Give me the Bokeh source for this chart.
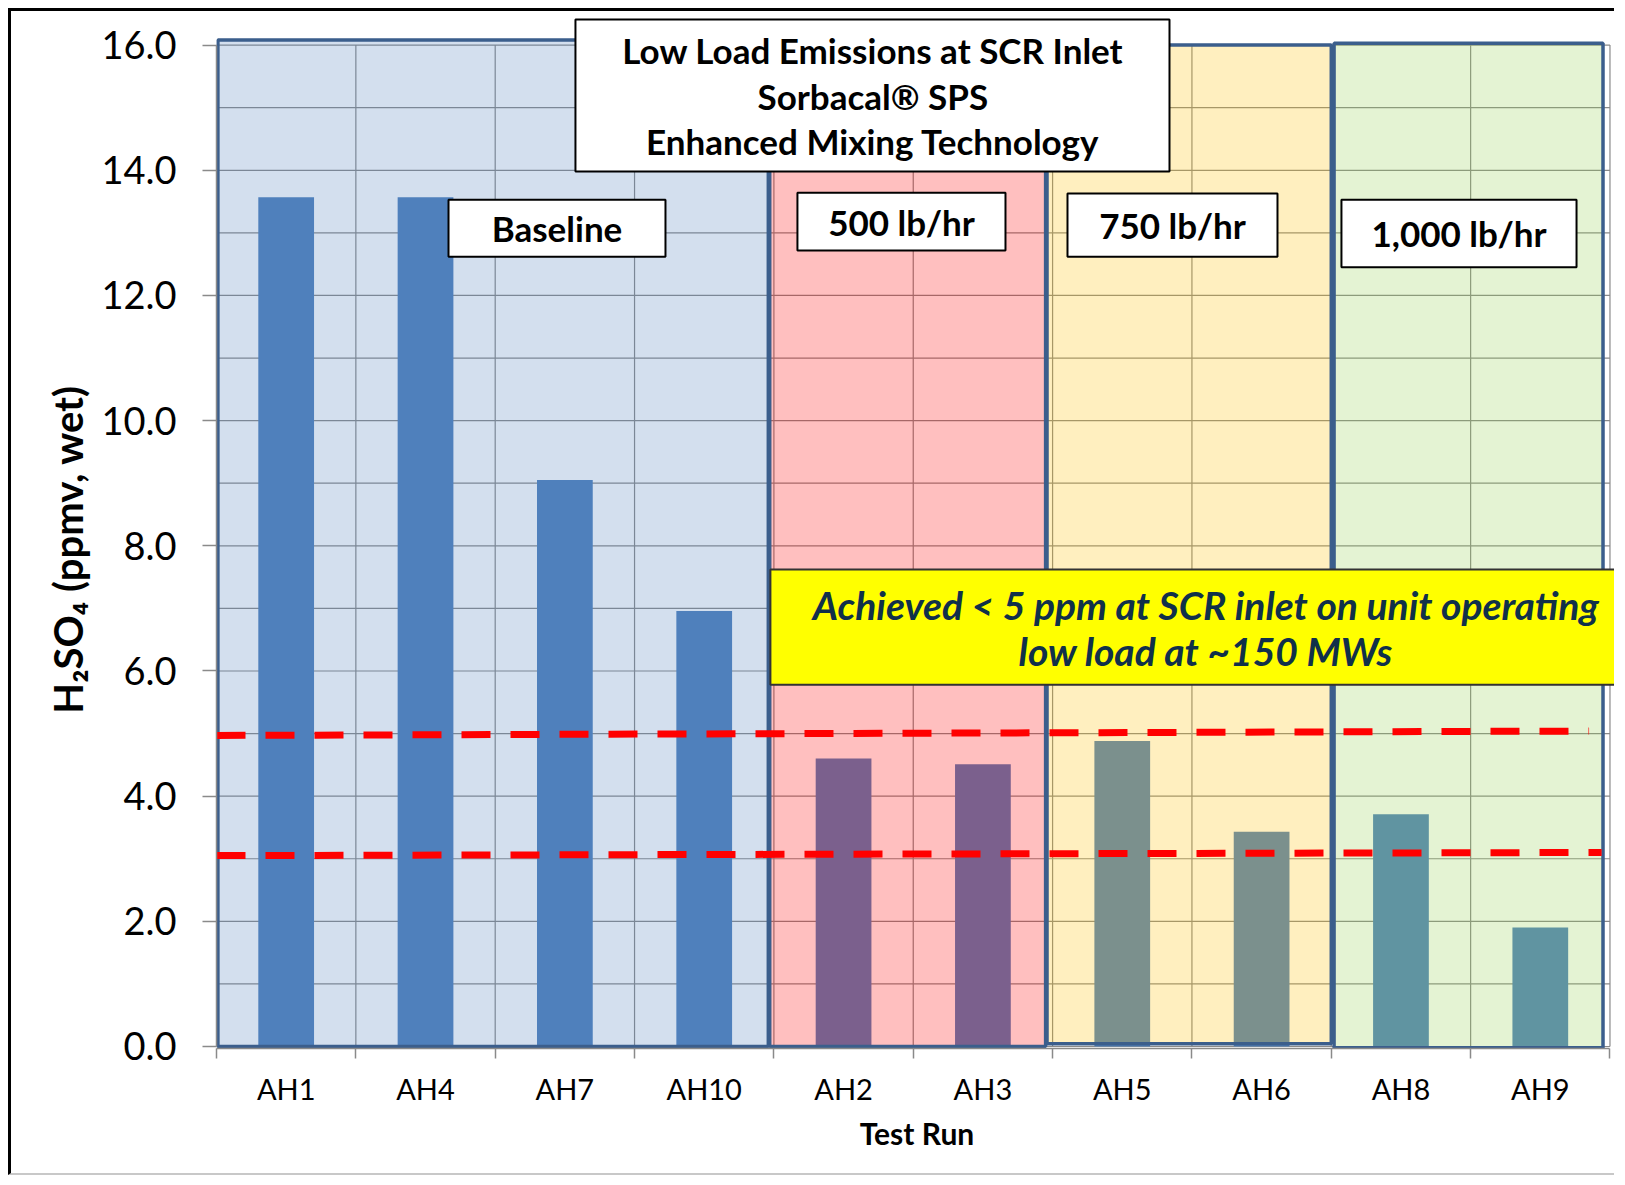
from bokeh.plotting import figure
from bokeh.models import FixedTicker, PrintfTickFormatter, BoxAnnotation, Label
from bokeh.embed import file_html
from bokeh.resources import INLINE

# ---------------- data ----------------
categories = ["AH1", "AH4", "AH7", "AH10", "AH2", "AH3", "AH5", "AH6", "AH8", "AH9"]
h2so4_ppmv = [13.57, 13.57, 9.05, 6.96, 4.60, 4.51, 4.88, 3.43, 3.71, 1.90]
groups = ["Baseline", "500 lb/hr", "750 lb/hr", "1,000 lb/hr"]
group_sizes = [4, 2, 2, 2]
group_overlay_colors = ["#4F81BD", "#FF0000", "#FFC000", "#92D050"]
y_tick_values = [0, 2, 4, 6, 8, 10, 12, 14, 16]
y_grid_values = list(range(0, 17))
upper_limit_line = [4.97, 5.04]
lower_limit_line = [3.05, 3.10]
y_axis_title = "H\u2082SO\u2084 (ppmv, wet)"
x_axis_title = "Test Run"
title_lines = ["Low Load Emissions at SCR Inlet", "Sorbacal\u00ae SPS", "Enhanced Mixing Technology"]
callout_lines = ["Achieved < 5 ppm at SCR inlet on unit operating", "low load at ~150 MWs"]

FONT = "Lato"
n = len(categories)
centers = [i + 0.5 for i in range(n)]
boundaries = list(range(n + 1))

W, H = 1606, 1167
p = figure(width=W, height=H, output_backend="svg", toolbar_location=None,
           x_range=(0, 10.054), y_range=(-0.032, 16.537),
           min_border_left=205, min_border_right=0, min_border_top=0, min_border_bottom=130)
p.styles = {"border-left": "3px solid #000000", "border-top": "3px solid #000000",
            "border-bottom": "2px solid #C8C8C8",
            "margin-left": "8px", "margin-top": "8px"}
p.outline_line_color = None
p.background_fill_color = "white"
p.border_fill_color = "white"
p.xgrid.visible = False
p.ygrid.visible = False

# grid lines (drawn as segments so they stop at 16)
p.segment(x0=[0] * len(y_grid_values), x1=[n] * len(y_grid_values), y0=y_grid_values, y1=y_grid_values,
          line_color="#8A8A8A", line_width=1.2)
p.segment(x0=boundaries, x1=boundaries, y0=[0] * len(boundaries), y1=[16] * len(boundaries),
          line_color="#8A8A8A", line_width=1.2)

# bars
p.vbar(x=centers, top=h2so4_ppmv, width=0.4, color="#4F81BD", line_color=None)

# translucent group overlays (one per test group)
lefts = [0.01, 3.97, 5.96, 8.02]
rights = [3.96, 5.95, 8.0, 9.95]
tops = [16.08, 16.08, 16.0, 16.03]
bottoms = [0.0, 0.0, 0.045, -0.02]
p.quad(left=lefts, right=rights, top=tops, bottom=bottoms,
       fill_color=group_overlay_colors, fill_alpha=0.25,
       line_color="#3B5E8C", line_width=3.5)

# red dashed limit lines
p.line(x=[0, 9.85], y=upper_limit_line, line_color="#FF0000", line_width=7, line_dash="29 20")
p.line(x=[0, 9.94], y=lower_limit_line, line_color="#FF0000", line_width=7, line_dash="29 20")

# axes
xa = p.xaxis[0]
xa.ticker = FixedTicker(ticks=centers, minor_ticks=boundaries)
xa.major_label_overrides = {c: lab for c, lab in zip(centers, categories)}
xa.bounds = (0, n)
xa.major_tick_out = 0
xa.major_tick_in = 0
xa.minor_tick_out = 10
xa.minor_tick_in = 0
xa.minor_tick_line_color = "#8A8A8A"
xa.minor_tick_line_width = 1.5
xa.axis_line_color = "#8A8A8A"
xa.axis_line_width = 1.5
xa.major_label_text_font = FONT
xa.major_label_text_font_size = "29px"
xa.major_label_text_color = "#000000"
xa.major_label_standoff = 12
xa.axis_label = x_axis_title
xa.axis_label_text_font = FONT
xa.axis_label_text_font_style = "bold"
xa.axis_label_text_font_size = "30px"
xa.axis_label_text_color = "#000000"
xa.axis_label_standoff = 6

ya = p.yaxis[0]
ya.ticker = FixedTicker(ticks=y_tick_values, minor_ticks=[])
ya.formatter = PrintfTickFormatter(format="%.1f")
ya.bounds = (0, 16)
ya.major_tick_out = 14
ya.major_tick_in = 0
ya.minor_tick_out = 0
ya.minor_tick_in = 0
ya.major_tick_line_color = "#8A8A8A"
ya.major_tick_line_width = 1.5
ya.axis_line_color = "#8A8A8A"
ya.axis_line_width = 1.5
ya.major_label_text_font = FONT
ya.major_label_text_font_size = "38px"
ya.major_label_text_color = "#000000"
ya.major_label_standoff = 26
# trailing no-break spaces nudge the title down so it is centred on the 0-16 span
ya.axis_label = y_axis_title + "\u00a0" * 4
ya.axis_label_text_font = FONT
ya.axis_label_text_font_style = "bold"
ya.axis_label_text_font_size = "40px"
ya.axis_label_text_color = "#000000"
ya.axis_label_standoff = 6

# text boxes
def box(l, r, t, b, fill="white", line="#000000", lw=2):
    p.add_layout(BoxAnnotation(left=l, right=r, top=t, bottom=b, fill_color=fill, fill_alpha=1.0,
                               line_color=line, line_width=lw, line_alpha=1.0))

def label(x, y, text, size, style="bold", color="#000000", lh=1.2):
    p.add_layout(Label(x=x, y=y, text=text, text_font=FONT, text_font_size=size, text_font_style=style,
                       text_color=color, text_align="center", text_baseline="middle", text_line_height=lh))

# title
box(2.576, 6.839, 16.41, 13.98)
label(4.71, 15.19, "\n".join(title_lines), "35px", lh=1.08)

# group labels
group_boxes = [(1.665, 3.222, 13.53, 12.62), (4.169, 5.662, 13.64, 12.72),
               (6.107, 7.614, 13.63, 12.62), (8.073, 9.76, 13.53, 12.45)]
for g, (l, r, t, b) in zip(groups, group_boxes):
    box(l, r, t, b)
    label((l + r) / 2, (t + b) / 2, g, "35px")

# yellow callout
box(3.975, 10.06, 7.62, 5.78, fill="#FFFF00", line="#333333", lw=2)
label(7.10, 6.69, "\n".join(callout_lines), "39px", style="bold italic", color="#10304A", lh=1.0)

open("out.html", "w").write(file_html(p, INLINE))
